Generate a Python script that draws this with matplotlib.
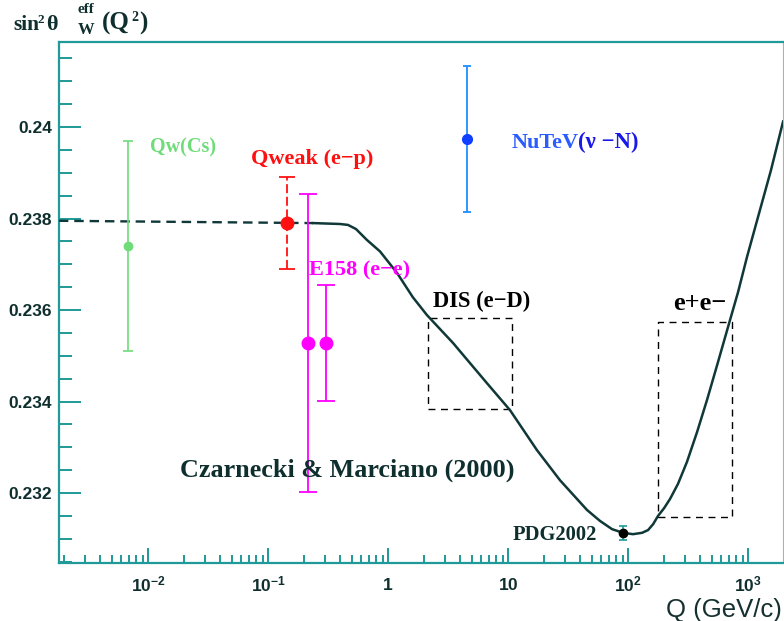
import numpy as np
import matplotlib
matplotlib.use("Agg")
import matplotlib.pyplot as plt
from matplotlib.ticker import FixedLocator, LogLocator, MultipleLocator, NullFormatter

plt.rcParams["mathtext.fontset"] = "custom"
plt.rcParams["mathtext.rm"] = "Liberation Sans:bold"
plt.rcParams["mathtext.bf"] = "Liberation Sans:bold"
plt.rcParams["mathtext.it"] = "Liberation Sans:bold"

# Running weak mixing angle (Czarnecki & Marciano 2000)
curve_q = [0.00181, 0.237, 0.398, 0.464, 0.541, 0.668, 0.858, 1.19, 1.61, 2.11,
           3.48, 6.68, 10.4, 17.4, 27.1, 45.5, 58.4, 73.6, 90.8, 110, 131, 147,
           162, 178, 200, 224, 261, 310, 376, 455, 562, 708, 826, 981, 1259,
           1555, 1960]
curve_s2w = [0.23795, 0.23790, 0.23788, 0.23786, 0.23777, 0.23753, 0.23728,
             0.23681, 0.23628, 0.23589, 0.23528, 0.23440, 0.23381, 0.23294,
             0.23228, 0.23163, 0.23139, 0.23121, 0.23113, 0.23110, 0.23113,
             0.23119, 0.23132, 0.23150, 0.23167, 0.23187, 0.23220, 0.23268,
             0.23333, 0.23403, 0.23486, 0.23578, 0.23639, 0.23716, 0.23819,
             0.23906, 0.24012]
q_dashed_end = 0.237

# Measurements
qwcs_q, qwcs_val, qwcs_err = 0.0068, 0.23740, 0.00230
qweak_q, qweak_val, qweak_err = 0.144, 0.23790, 0.00100
e158_q = [0.215, 0.304]
e158_val = [0.23528, 0.23528]
e158_err = [0.00325, 0.00126]
nutev_q, nutev_val, nutev_err = 4.55, 0.23974, 0.00160
pdg_q, pdg_val, pdg_err = 91.19, 0.23113, 0.00015

# Kinematic regions
dis_box = (2.15, 10.8, 0.23383, 0.23582)
ee_box = (178, 735, 0.23148, 0.23574)

xticks = [1e-2, 1e-1, 1, 10, 1e2, 1e3]
xticklabels = [r"$10^{-2}$", r"$10^{-1}$", r"$1$", r"$10$", r"$10^{2}$", r"$10^{3}$"]
yticks = [0.232, 0.234, 0.236, 0.238, 0.240]
yticklabels = ["0.232", "0.234", "0.236", "0.238", "0.24"]

W, H = 784, 621
fig = plt.figure(figsize=(W / 100, H / 100), dpi=100)
ax = fig.add_axes([59 / W, 1 - 563 / H, (783 - 59) / W, (563 - 42) / H])

teal = "#1f9a98"
dark = "#0f2f2f"
serif = "Liberation Serif"

ax.set_xscale("log")
ax.set_xlim(1.813e-3, 1957)
ax.set_ylim(0.23047, 0.241858)

# spines
for s in ["left", "bottom", "top"]:
    ax.spines[s].set_color(teal)
    ax.spines[s].set_linewidth(1.6)
ax.spines["right"].set_color("#b0b0b0")
ax.spines["right"].set_linewidth(0.8)

ax.xaxis.set_major_locator(FixedLocator(xticks))
ax.xaxis.set_minor_locator(LogLocator(base=10, subs=np.arange(2, 10), numticks=20))
ax.xaxis.set_minor_formatter(NullFormatter())
ax.set_xticklabels(xticklabels)
ax.yaxis.set_major_locator(FixedLocator(yticks))
ax.set_yticklabels(yticklabels)
ax.yaxis.set_minor_locator(MultipleLocator(0.0005))

ax.tick_params(axis="x", which="major", direction="in", length=11, width=1.4,
               color=teal, pad=9, labelsize=12.5, labelcolor=dark)
ax.tick_params(axis="x", which="minor", direction="in", length=6, width=1.4, color=teal)
ax.tick_params(axis="y", which="major", direction="in", length=16, width=1.4,
               color=teal, pad=5, labelsize=12.5, labelcolor=dark)
ax.tick_params(axis="y", which="minor", direction="in", length=9, width=1.4, color=teal)
for lab in ax.get_yticklabels():
    lab.set_fontfamily("Liberation Sans")
    lab.set_fontweight("bold")

# theory curve: dashed at low Q, solid afterwards
cq = np.array(curve_q)
cs = np.array(curve_s2w)
low = cq <= q_dashed_end
high = cq >= q_dashed_end
ax.plot(cq[low], cs[low], color="#103838", lw=1.7, ls=(0, (4, 2.5)), zorder=3)
ax.plot(cq[high], cs[high], color="#103838", lw=1.8, zorder=3,
        solid_joinstyle="round")

# boxes
for (x0, x1, y0, y1) in [dis_box, ee_box]:
    ax.plot([x0, x1, x1, x0, x0], [y0, y0, y1, y1, y0], color="black",
            lw=1.0, ls=(0, (5, 4)), zorder=2)

# data points
ax.errorbar(qwcs_q, qwcs_val, yerr=qwcs_err, fmt="o", color="#6fdc7a", ms=6,
            capsize=3.5, elinewidth=1.2, capthick=1.2, zorder=4)
eb = ax.errorbar(qweak_q, qweak_val, yerr=qweak_err, fmt="o", color="#ff1010",
                 ms=9, capsize=6, elinewidth=1.3, capthick=1.3, zorder=5)
eb[2][0].set_linestyle((0, (5, 2)))
ax.errorbar(e158_q, e158_val, yerr=e158_err, fmt="o", color="#ff00ff", ms=9,
            capsize=6.5, elinewidth=1.3, capthick=1.3, zorder=4)
ax.errorbar(nutev_q, nutev_val, yerr=nutev_err, fmt="none", ecolor="#1e8fff",
            capsize=3, elinewidth=1.3, capthick=1.3, zorder=4)
ax.plot(nutev_q, nutev_val, "o", color="#1040ff", ms=7, zorder=5)
ax.errorbar(pdg_q, pdg_val, yerr=pdg_err, fmt="none", ecolor=teal, capsize=3,
            elinewidth=1.2, capthick=1.2, zorder=5)
ax.plot(pdg_q, pdg_val, "o", color="black", ms=6, zorder=6)


def px(x, y):
    return x / W, 1 - y / H


def ftext(x, y, s, size, color, weight="bold", family=serif, **kw):
    fig.text(*px(x, y), s, fontsize=size, color=color, fontweight=weight,
             family=family, ha=kw.pop("ha", "left"), va=kw.pop("va", "baseline"), **kw)


ftext(150, 152, "Qw(Cs)", 14.5, "#6fdc7a")
ftext(251, 164, "Qweak (e\u2212p)", 16, "#ff1010")
ftext(309, 275, "E158 (e\u2212e)", 16, "#ff00ff")
ftext(512, 148, "NuTeV", 16, "#2a5cff")
ftext(578, 148, "(\u03bd \u2212N)", 16.5, "#1818e8")
ftext(433, 307, "DIS (e\u2212D)", 16.3, "black")
ftext(673, 310, "e+e\u2212", 19, "black")
ftext(180, 477, "Czarnecki & Marciano (2000)", 18.8, dark)
ftext(513, 540, "PDG2002", 14.8, dark)

# y-axis title
ftext(13, 30, "sin", 15.5, dark)
ftext(38, 23, "2", 9.5, dark)
ftext(46, 30, "\u03b8", 16, dark)
ftext(78, 13, "eff", 11, dark)
ftext(78, 34, "W", 12, dark)
ftext(102, 30, "(Q", 18, dark)
ftext(131, 21, "2", 10, dark)
ftext(139, 30, ")", 18, dark)

# x-axis title
ftext(782, 617, "Q (GeV/c)", 18.5, "#153030", weight="normal",
      family="Liberation Sans", ha="right")

fig.savefig("out.png", dpi=100, facecolor="white")
